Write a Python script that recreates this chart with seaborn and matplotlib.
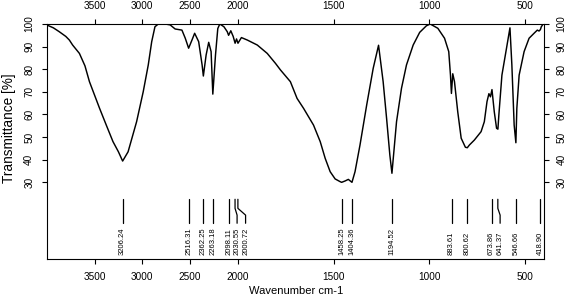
import numpy as np
import pandas as pd
import matplotlib
matplotlib.use("Agg")
import matplotlib.pyplot as plt
import seaborn as sns
from matplotlib.ticker import FixedLocator, NullLocator

# ---- data ----
wavenumber = [4000, 3930, 3869, 3800, 3763, 3729, 3658, 3600, 3553, 3447, 3377, 3307, 3250,
              3206, 3149, 3060, 2991, 2938, 2902, 2868, 2833, 2760, 2709, 2657, 2586,
              2551, 2516, 2481, 2453, 2411, 2375, 2362, 2333, 2306, 2281, 2263, 2235,
              2211, 2190, 2147, 2112, 2098, 2075, 2050, 2030, 2015, 2000, 1982, 1951,
              1899, 1847, 1804, 1778, 1726, 1691, 1657, 1605, 1570, 1544, 1518, 1492,
              1466, 1458, 1440, 1423, 1404, 1388, 1362, 1327, 1293, 1265, 1241, 1223,
              1206, 1195, 1185, 1171, 1145, 1119, 1084, 1050, 1015, 995, 955, 920, 898,
              889, 884, 877, 868, 851, 833, 811, 801, 790, 764, 729, 712, 698, 688, 680,
              672, 660, 648, 641, 636, 620, 596, 578, 568, 556, 547, 542, 530, 504, 478,
              452, 435, 426, 419, 414, 405, 400]
transmittance = [99.6, 98.3, 96.6, 94.5, 92.9, 90.7, 87.0, 81.5, 74.5, 62.7, 55.3, 48.0, 43.5,
                 39.4, 43.5, 56.8, 70.0, 81.9, 92.2, 98.8, 100.0, 100.0, 99.6, 97.8, 97.3,
                 93.7, 89.3, 92.9, 95.9, 92.2, 81.9, 77.0, 86.3, 91.9, 87.8, 69.0, 86.3,
                 98.0, 100.0, 98.8, 96.6, 95.0, 97.0, 94.5, 91.5, 93.4, 91.5, 94.0, 92.9,
                 90.7, 87.0, 82.6, 79.7, 74.5, 67.1, 62.7, 55.3, 48.0, 40.6, 34.7, 31.5,
                 30.3, 30.0, 30.6, 31.3, 30.0, 34.7, 46.5, 64.2, 80.4, 90.6, 74.5, 58.3,
                 42.1, 34.0, 43.5, 56.8, 71.6, 81.9, 90.7, 96.3, 99.2, 100.0, 98.1, 93.7, 87.8,
                 77.4, 69.3, 78.0, 74.5, 61.2, 49.5, 45.5, 45.3, 46.5, 48.7, 52.4, 56.8, 65.7, 69.2, 67.8,
                 71.0, 61.2, 53.9, 53.5, 59.8, 77.4, 89.3, 98.3, 81.9, 55.3, 47.5, 62.7, 77.4, 87.8, 93.7,
                 95.9, 97.3, 96.9, 97.5, 98.8, 99.9, 100.0]

peak_positions = [3206.24, 2516.31, 2362.25, 2263.18, 2098.11, 2030.55, 2000.72,
                  1458.25, 1404.36, 1194.52, 883.61, 800.62, 673.86, 641.37, 546.66, 418.90]
peak_labels = ["3206.24", "2516.31", "2362.25", "2263.18", "2098.11", "2030.55", "2000.72",
               "1458.25", "1404.36", "1194.52", "883.61", "800.62", "673.86", "641.37",
               "546.66", "418.90"]

x_ticks = [3500, 3000, 2500, 2000, 1500, 1000, 500]
y_ticks = [30, 40, 50, 60, 70, 80, 90, 100]

# ---- style ----
sns.set_theme(style="ticks")
plt.rcParams["font.family"] = ["Liberation Sans", "DejaVu Sans"]
plt.rcParams["axes.edgecolor"] = "black"
plt.rcParams["xtick.color"] = "black"
plt.rcParams["ytick.color"] = "black"
plt.rcParams["text.color"] = "black"

W, H = 567, 298
fig = plt.figure(figsize=(W / 100, H / 100), dpi=100)
L, R, T, B = 46.7, 544.0, 24.0, 259.0
ax = fig.add_axes([L / W, 1 - B / H, (R - L) / W, (B - T) / H])

df = pd.DataFrame({"wn": wavenumber, "T": transmittance})
sns.lineplot(data=df, x="wn", y="T", ax=ax, color="black", linewidth=1.05)


def fwd(x):
    x = np.asarray(x, dtype=float)
    return np.where(x > 2000, 2000 + (x - 2000) * 0.5, x)


def inv(y):
    y = np.asarray(y, dtype=float)
    return np.where(y > 2000, 2000 + (y - 2000) * 2.0, y)


ax.set_xscale("function", functions=(fwd, inv))
ax.set_xlim(4000, 400)
ax.set_ylim(-3.9, 100)

ax.xaxis.set_major_locator(FixedLocator(x_ticks))
ax.xaxis.set_minor_locator(NullLocator())
ax.set_xticklabels([str(t) for t in x_ticks])
ax.yaxis.set_major_locator(FixedLocator(y_ticks))
ax.yaxis.set_minor_locator(NullLocator())
ax.set_yticklabels([str(t) for t in y_ticks])

ax.tick_params(axis="x", which="major", top=True, labeltop=True, bottom=True,
               labelbottom=True, direction="out", length=3.5, width=0.8, pad=6, labelsize=7.2)
ax.tick_params(axis="y", which="major", left=True, right=True, labelleft=True,
               labelright=True, direction="out", length=3.5, width=0.8, pad=5.5, labelsize=7.2)
for tk in ax.yaxis.get_major_ticks():
    tk.label1.set_rotation(90)
    tk.label1.set_va("center")
    tk.label2.set_rotation(90)
    tk.label2.set_va("center")

for s in ax.spines.values():
    s.set_visible(True)
    s.set_linewidth(0.8)
    s.set_color("black")

ax.set_xlabel("")
ax.set_ylabel("")
fig.text(9 / W, 1 - 128.5 / H, "Transmittance [%]", rotation=90, ha="center", va="center",
         fontsize=9.8)
fig.text(296 / W, 1 - 291 / H, "Wavenumber cm-1", ha="center", va="center", fontsize=8)

# ---- peak markers ----
peak_px = [ax.transData.transform((p, 0))[0] for p in peak_positions]
min_gap = 8.5
label_px = []
for p in peak_px:
    if label_px and p - label_px[-1] < min_gap:
        label_px.append(label_px[-1] + min_gap)
    else:
        label_px.append(p)
inv_tr = ax.transData.inverted()
label_x = [inv_tr.transform((lp, 0))[0] for lp in label_px]

for p, lx, txt in zip(peak_positions, label_x, peak_labels):
    ax.plot([p, p, lx, lx], [22.5, 18.5, 15.5, 11.9], color="black", linewidth=0.9)
    ax.text(lx, -2.15, txt, rotation=90, ha="center", va="bottom", fontsize=5.5)

fig.savefig("out.png", dpi=100)
